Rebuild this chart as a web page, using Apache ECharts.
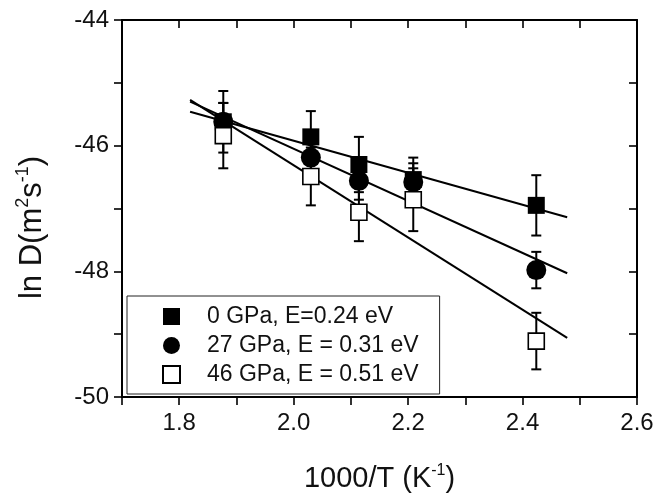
<!DOCTYPE html>
<html>
<head>
<meta charset="utf-8">
<script src="https://cdn.jsdelivr.net/npm/echarts@6/dist/echarts.min.js"></script>
<style>
html,body{margin:0;padding:0;background:#fff;}
#chart{width:672px;height:499px;}
</style>
</head>
<body>
<div id="chart"></div>
<script>
// ---- data ----
const xValues = [1.877, 2.030, 2.114, 2.209, 2.424];           // 1000/T (K^-1)
const gpa0 = [-45.62, -45.86, -46.30, -46.54, -46.95];          // 0 GPa
const gpa0Err = [0.49, 0.41, 0.44, 0.35, 0.48];
const gpa27 = [-45.62, -46.19, -46.56, -46.58, -47.98];         // 27 GPa
const gpa27Err = [0.30, 0.30, 0.30, 0.30, 0.29];
const gpa46 = [-45.84, -46.49, -47.06, -46.86, -49.11];         // 46 GPa
const gpa46Err = [0.52, 0.46, 0.46, 0.50, 0.45];
const fitX = [1.819, 2.478];
const fit0 = [-45.46, -47.14];
const fit27 = [-45.30, -48.03];
const fit46 = [-45.27, -49.06];
const seriesNames = ['0 GPa, E=0.24 eV', '27 GPa, E = 0.31 eV', '46 GPa, E = 0.51 eV'];
const xTickLabels = ['1.8', '2.0', '2.2', '2.4', '2.6'];
const yTickLabels = ['-44', '-46', '-48', '-50'];

const FONT = 'Liberation Sans, Arial, sans-serif';
const pts = (ys) => xValues.map((x, i) => [x, ys[i]]);
const errPts = (ys, es) => xValues.map((x, i) => [x, ys[i], es[i]]);
const fitPts = (ys) => fitX.map((x, i) => [x, ys[i]]);

function renderErr(params, api) {
  const x = api.value(0), y = api.value(1), e = api.value(2);
  const top = api.coord([x, y + e]);
  const bot = api.coord([x, y - e]);
  const hw = 5;
  const st = {stroke: '#000', lineWidth: 2};
  return {
    type: 'group',
    children: [
      {type: 'line', shape: {x1: top[0], y1: top[1], x2: bot[0], y2: bot[1]}, style: st},
      {type: 'line', shape: {x1: top[0] - hw, y1: top[1], x2: top[0] + hw, y2: top[1]}, style: st},
      {type: 'line', shape: {x1: bot[0] - hw, y1: bot[1], x2: bot[0] + hw, y2: bot[1]}, style: st}
    ]
  };
}

const xFmt = (v) => {
  const k = Math.round(v * 10);
  const s = (k / 10).toFixed(1);
  return xTickLabels.indexOf(s) >= 0 ? s : '';
};
const yFmt = (v) => {
  const s = String(Math.round(v));
  return yTickLabels.indexOf(s) >= 0 ? s : '';
};

const axisLineStyle = {show: true, lineStyle: {color: '#000', width: 2}};
const tickStyle = {lineStyle: {color: '#000', width: 1.6}, length: 8};

const chart = echarts.init(document.getElementById('chart'), null, {renderer: 'canvas'});
chart.setOption({
  animation: false,
  backgroundColor: '#fff',
  textStyle: {fontFamily: FONT},
  grid: {left: 122, right: 35, top: 20, bottom: 102},
  legend: {
    orient: 'vertical',
    left: 127,
    top: 296,
    selectedMode: false,
    itemWidth: 17,
    itemHeight: 17,
    itemGap: 6,
    padding: [9, 21, 8, 35],
    borderColor: '#222',
    borderWidth: 1,
    backgroundColor: '#fff',
    textStyle: {fontFamily: FONT, fontSize: 23, color: '#111', lineHeight: 22.5, padding: [0, 0, 0, 22]},
    data: [
      {name: seriesNames[0], icon: 'rect'},
      {name: seriesNames[1], icon: 'circle'},
      {name: seriesNames[2], icon: 'rect'}
    ]
  },
  xAxis: [
    {
      type: 'value', position: 'bottom', min: 1.7, max: 2.6, interval: 0.1,
      axisLine: axisLineStyle,
      axisTick: Object.assign({inside: false}, tickStyle),
      axisLabel: {formatter: xFmt, fontFamily: FONT, fontSize: 24, color: '#111', margin: 14, showMinLabel: true, showMaxLabel: true, hideOverlap: false},
      splitLine: {show: false},
      name: '1000/T (K{sup|-1})',
      nameLocation: 'middle',
      nameGap: 66,
      nameTextStyle: {fontFamily: FONT, fontSize: 29, color: '#111',
        rich: {sup: {fontFamily: FONT, fontSize: 16, color: '#111', padding: [0, 0, 16, 0]}}}
    },
    {
      type: 'value', position: 'top', min: 1.7, max: 2.6, interval: 0.1,
      axisLine: axisLineStyle,
      axisTick: Object.assign({inside: true}, tickStyle),
      axisLabel: {show: false},
      splitLine: {show: false}
    }
  ],
  yAxis: [
    {
      type: 'value', position: 'left', min: -50, max: -44, interval: 1,
      axisLine: axisLineStyle,
      axisTick: Object.assign({inside: false}, tickStyle),
      axisLabel: {formatter: yFmt, fontFamily: FONT, fontSize: 24, color: '#111', margin: 13, showMinLabel: true, showMaxLabel: true},
      splitLine: {show: false},
      name: 'ln D(m{sup|2}s{sup|-1})',
      nameLocation: 'middle',
      nameRotate: 90,
      nameGap: 72,
      nameTextStyle: {fontFamily: FONT, fontSize: 31, color: '#111', padding: [0, 38, 0, 0],
        rich: {sup: {fontFamily: FONT, fontSize: 18, color: '#111', padding: [0, 0, 18, 0]}}}
    },
    {
      type: 'value', position: 'right', min: -50, max: -44, interval: 1,
      axisLine: axisLineStyle,
      axisTick: Object.assign({inside: true}, tickStyle),
      axisLabel: {show: false},
      splitLine: {show: false}
    }
  ],
  series: [
    {type: 'line', data: fitPts(fit0), showSymbol: false, symbol: 'none', lineStyle: {color: '#000', width: 2}, z: 1, silent: true},
    {type: 'line', data: fitPts(fit27), showSymbol: false, symbol: 'none', lineStyle: {color: '#000', width: 2}, z: 1, silent: true},
    {type: 'line', data: fitPts(fit46), showSymbol: false, symbol: 'none', lineStyle: {color: '#000', width: 2}, z: 1, silent: true},
    {type: 'custom', renderItem: renderErr, data: errPts(gpa0, gpa0Err), encode: {x: 0, y: 1}, z: 2, silent: true},
    {type: 'custom', renderItem: renderErr, data: errPts(gpa27, gpa27Err), encode: {x: 0, y: 1}, z: 2, silent: true},
    {type: 'custom', renderItem: renderErr, data: errPts(gpa46, gpa46Err), encode: {x: 0, y: 1}, z: 2, silent: true},
    {name: seriesNames[1], type: 'scatter', data: pts(gpa27), symbol: 'circle', symbolSize: 20,
      itemStyle: {color: '#000', opacity: 1}, z: 3},
    {name: seriesNames[0], type: 'scatter', data: pts(gpa0), symbol: 'rect', symbolSize: 17,
      itemStyle: {color: '#000', opacity: 1}, z: 4},
    {name: seriesNames[2], type: 'scatter', data: pts(gpa46), symbol: 'rect', symbolSize: 16,
      itemStyle: {color: '#fff', borderColor: '#000', borderWidth: 1.6, opacity: 1}, z: 5}
  ]
});
</script>
</body>
</html>
